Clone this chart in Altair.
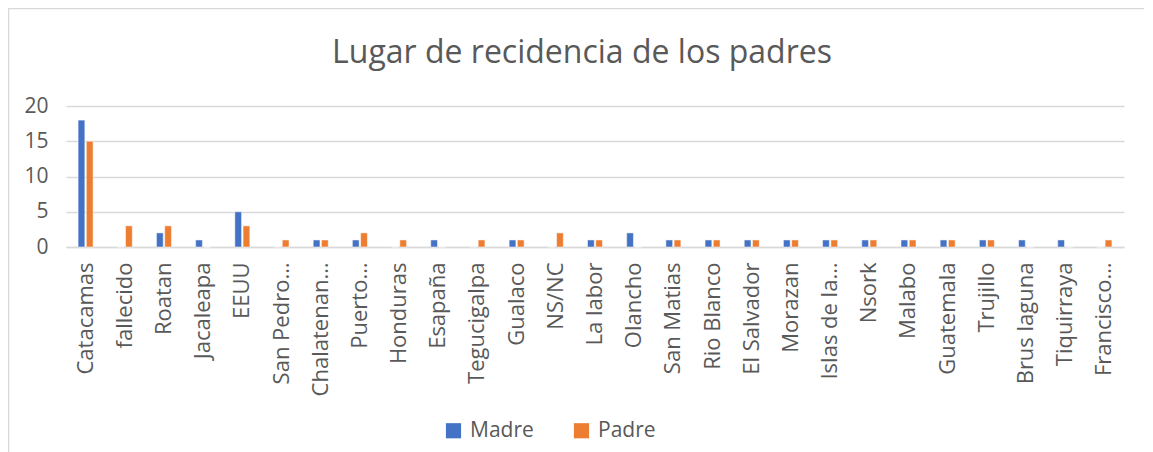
import altair as alt
import pandas as pd

categories = ["Catacamas", "fallecido", "Roatan", "Jacaleapa", "EEUU", "San Pedro…",
              "Chalatenan…", "Puerto…", "Honduras", "Esapaña", "Tegucigalpa", "Gualaco",
              "NS/NC", "La labor", "Olancho", "San Matias", "Rio Blanco", "El Salvador",
              "Morazan", "Islas de la…", "Nsork", "Malabo", "Guatemala", "Trujillo",
              "Brus laguna", "Tiquirraya", "Francisco…"]
madre = [18, 0, 2, 1, 5, 0, 1, 1, 0, 1, 0, 1, 0, 1, 2, 1, 1, 1, 1, 1, 1, 1, 1, 1, 1, 1, 0]
padre = [15, 3, 3, 0, 3, 1, 1, 2, 1, 0, 1, 1, 2, 1, 0, 1, 1, 1, 1, 1, 1, 1, 1, 1, 0, 0, 1]
series = ["Madre", "Padre"]
y_ticks = [0, 5, 10, 15, 20]
title_text = "Lugar de recidencia de los padres"

rows = []
for c, m, p in zip(categories, madre, padre):
    rows.append({"lugar": c, "serie": series[0], "valor": m})
    rows.append({"lugar": c, "serie": series[1], "valor": p})
df = pd.DataFrame(rows)

W, H = 1058, 141
FONT = "Open Sans"
GRAY = "#595959"

bars = alt.Chart(df).mark_bar(stroke="white", strokeWidth=0.5).encode(
    x=alt.X("lugar:N", sort=categories, title=None,
            scale=alt.Scale(paddingInner=0.617, paddingOuter=0.3085),
            axis=alt.Axis(labelAngle=-90, labelAlign="right", labelBaseline="middle",
                          labelPadding=15, ticks=False, domain=True,
                          domainColor="#d9d9d9", domainWidth=1.5,
                          labelFont=FONT, labelFontSize=22, labelColor=GRAY,
                          labelLimit=300)),
    xOffset=alt.XOffset("serie:N", sort=series,
                        scale=alt.Scale(paddingInner=0.18, paddingOuter=0)),
    y=alt.Y("valor:Q", title=None,
            scale=alt.Scale(domain=[0, 20], nice=False),
            axis=alt.Axis(values=y_ticks, ticks=False, domain=False, grid=True,
                          gridColor="#d9d9d9", gridWidth=1.5, labelPadding=18,
                          labelFont=FONT, labelFontSize=21, labelColor=GRAY)),
    color=alt.Color("serie:N", sort=series,
                    scale=alt.Scale(domain=series, range=["#4472C4", "#ED7D31"]),
                    legend=alt.Legend(title=None, orient="none", direction="horizontal",
                                      legendX=377, legendY=314,
                                      symbolType="square", symbolSize=230,
                                      symbolStrokeWidth=0, labelOffset=6,
                                      columnPadding=37,
                                      labelFont=FONT, labelFontSize=21,
                                      labelColor=GRAY)),
)

border = alt.Chart(pd.DataFrame({"a": [0]})).mark_rect(
    fill=None, stroke="#d9d9d9", strokeWidth=1.5
).encode(
    x=alt.value(-57.5), x2=alt.value(W + 40),
    y=alt.value(-97.5), y2=alt.value(H + 260),
)

title = alt.Chart(pd.DataFrame({"t": [title_text]})).mark_text(
    font=FONT, fontSize=32, color=GRAY, align="center", baseline="alphabetic"
).encode(
    text="t:N", x=alt.value(516), y=alt.value(-43),
)

chart = alt.layer(border, title, bars).properties(
    width=W, height=H,
    autosize=alt.AutoSizeParams(type="none"),
    padding={"left": 58, "top": 98, "right": 20, "bottom": 205},
).configure_view(stroke=None)

chart.save("out.html", embed_options={"renderer": "svg", "actions": False})
